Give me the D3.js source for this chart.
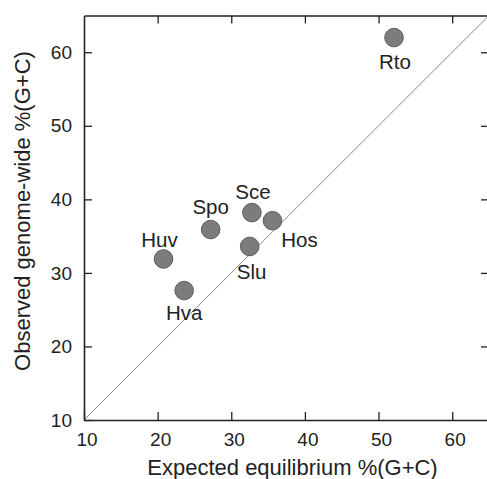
<!DOCTYPE html>
<html>
<head>
<meta charset="utf-8">
<script src="https://cdn.jsdelivr.net/npm/d3@7"></script>
<style>
  body { margin: 0; background: #fff; }
  text { font-family: "Liberation Sans", Arial, Helvetica, sans-serif; fill: #222; }
</style>
</head>
<body>
<div id="chart"></div>
<script>
// species labels and their G+C values
var species = ["Rto", "Sce", "Hos", "Slu", "Spo", "Huv", "Hva"];
var expectedGC = [52.1, 32.8, 35.6, 32.5, 27.2, 20.8, 23.6];
var observedGC = [62.0, 38.2, 37.1, 33.6, 35.9, 31.9, 27.6];
var xTicks = [10, 20, 30, 40, 50, 60];
var yTicks = [10, 20, 30, 40, 50, 60];

// where each label sits relative to its dot
var labelOffsets = {
    Rto: [1, 31], Sce: [1, -14], Hos: [27, 26], Slu: [2, 33],
    Spo: [0, -16], Huv: [-4, -12], Hva: [0, 29]
};

var widthx = 487, heighty = 479;
var plotLeft = 84, plotRight = 489, plotTop = 15.5, plotBottom = 420;

var svg = d3.select("#chart").append("svg")
    .attr("width", widthx)
    .attr("height", heighty);

var x = d3.scaleLinear().domain([10, 65]).range([plotLeft, plotRight]);
var y = d3.scaleLinear().domain([10, 65]).range([plotBottom, plotTop]);

// 1:1 line
svg.append("line")
    .attr("x1", x(10)).attr("y1", y(10))
    .attr("x2", x(65)).attr("y2", y(65))
    .attr("stroke", "#777").attr("stroke-width", 0.9);

// axes, ticks all point inward
function styleAxis(g) {
    g.select(".domain").attr("stroke", "#222").attr("stroke-width", 1.6);
    g.selectAll(".tick line").attr("stroke", "#222").attr("stroke-width", 1.3);
    g.selectAll(".tick text").style("font-size", "19px").attr("fill", "#222");
}

svg.append("g")
    .attr("transform", "translate(0," + plotBottom + ")")
    .call(d3.axisBottom(x).tickValues(xTicks).tickSizeInner(-8).tickSizeOuter(0).tickPadding(13))
    .call(styleAxis)
    .call(function(g) { g.selectAll(".tick text").attr("dx", "2.5"); });

svg.append("g")
    .attr("transform", "translate(0," + plotTop + ")")
    .call(d3.axisTop(x).tickValues(xTicks.slice(1)).tickSizeInner(-8).tickSizeOuter(0).tickFormat(""))
    .call(styleAxis);

svg.append("g")
    .attr("transform", "translate(" + plotLeft + ",0)")
    .call(d3.axisLeft(y).tickValues(yTicks).tickSizeInner(-8).tickSizeOuter(0).tickPadding(12))
    .call(styleAxis);

svg.append("g")
    .attr("transform", "translate(" + plotRight + ",0)")
    .call(d3.axisRight(y).tickValues(yTicks.slice(1)).tickSizeInner(-8).tickSizeOuter(0).tickFormat(""))
    .call(styleAxis);

// dots
var idx = d3.range(species.length);
svg.selectAll(".dot")
    .data(idx)
    .enter().append("circle")
    .attr("class", "dot")
    .attr("cx", function(i) { return x(expectedGC[i]); })
    .attr("cy", function(i) { return y(observedGC[i]); })
    .attr("r", 9.3)
    .attr("fill", "#7c7c7c")
    .attr("stroke", "#5c5c5c")
    .attr("stroke-width", 1);

svg.selectAll(".lbl")
    .data(idx)
    .enter().append("text")
    .attr("class", "lbl")
    .attr("x", function(i) { return x(expectedGC[i]) + labelOffsets[species[i]][0]; })
    .attr("y", function(i) { return y(observedGC[i]) + labelOffsets[species[i]][1]; })
    .attr("text-anchor", "middle")
    .style("font-size", "20.5px")
    .text(function(i) { return species[i]; });

// axis titles
svg.append("text")
    .attr("x", 292.5).attr("y", 475)
    .attr("text-anchor", "middle")
    .style("font-size", "22px")
    .text("Expected equilibrium %(G+C)");

svg.append("text")
    .attr("transform", "translate(30,211) rotate(-90)")
    .attr("text-anchor", "middle")
    .style("font-size", "22px")
    .text("Observed genome-wide %(G+C)");
</script>
</body>
</html>
